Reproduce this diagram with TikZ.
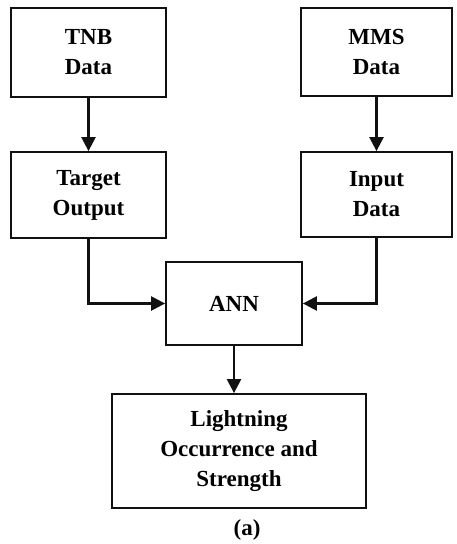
\documentclass[tikz,border=0pt]{standalone}
\usepackage{fontspec}
\setmainfont{Liberation Serif}
\usepackage{tikz}
\usetikzlibrary{positioning,arrows.meta}
\definecolor{ink}{HTML}{111111}

\tikzset{
  block/.style={draw=ink,line width=1.8pt,align=center,inner sep=2pt,
    font=\bfseries\fontsize{23}{30}\selectfont},
  flow/.style={draw=ink,line width=2.4pt,-{Triangle[length=14pt,width=14pt]}}
}

\begin{document}
\begin{tikzpicture}[x=1pt,y=-1pt]
\useasboundingbox (0,0) rectangle (456,544);
\node[block,minimum width=155pt,minimum height=89pt] (tnb) at (88.5,52.5) {TNB\\Data};
\node[block,minimum width=151pt,minimum height=88pt] (mms) at (376.5,52) {MMS\\Data};
\node[block,minimum width=155pt,minimum height=86pt] (target) at (88.5,195) {Target\\Output};
\node[block,minimum width=151pt,minimum height=85pt] (input) at (376.5,194.5) {Input\\Data};
\node[block,minimum width=136pt,minimum height=83pt] (ann) at (234,303.5) {ANN};
\node[block,minimum width=254pt,minimum height=114pt] (light) at (239,451)
  {Lightning\\Occurrence and\\Strength};
\node[font=\bfseries\fontsize{23}{30}\selectfont] (cap) at (247,530) {(a)};

\draw[flow] (tnb) -- (target);
\draw[flow] (mms) -- (input);
\draw[flow] (target.south) |- (ann.west);
\draw[flow] (input.south) |- (ann.east);
\draw[flow] (ann.south) -- (ann.south |- light.north);
\end{tikzpicture}
\end{document}
